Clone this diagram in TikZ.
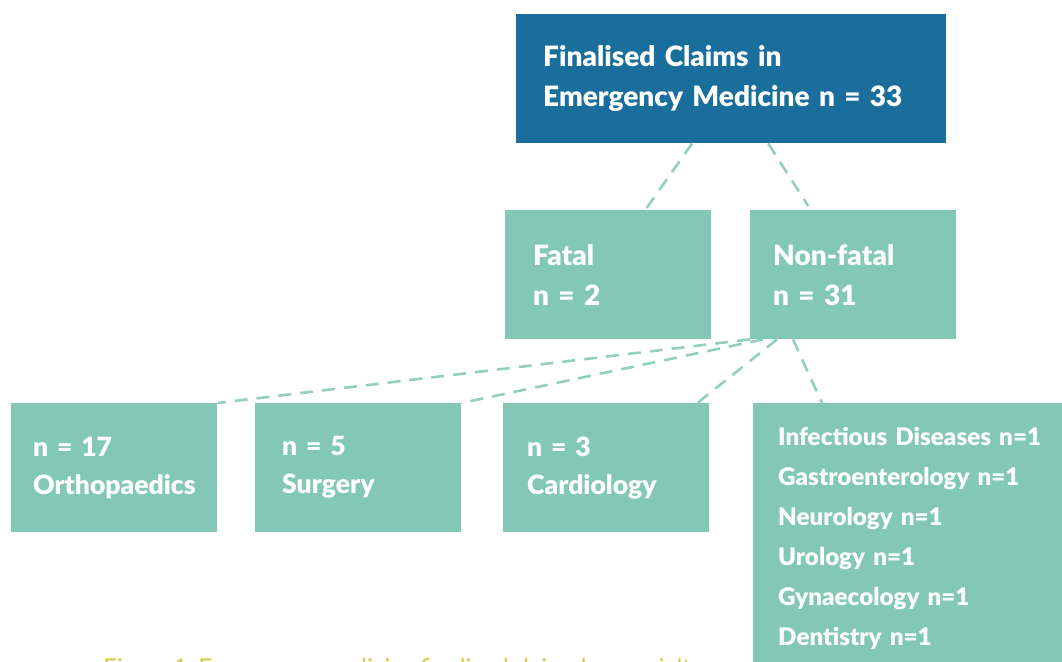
\documentclass[tikz,border=0pt]{standalone}
\usepackage{xcolor}
\usepackage{fontspec}
\setmainfont{Lato}[BoldFont={Lato Black}, WordSpace=0.45]
\usepackage{tikz}
\usetikzlibrary{positioning, calc}
\definecolor{claimblue}{HTML}{1A6E9C}
\definecolor{claimteal}{HTML}{82C8B4}
\definecolor{claimline}{HTML}{92CFBE}
\definecolor{captionyellow}{HTML}{D9C740}
\tikzstyle{claimbox}=[shape=rectangle, fill=claimteal, text=white, align=left, anchor=north west, minimum height=129pt, inner ysep=0pt]
\tikzstyle{link}=[draw=claimline, line width=2.6pt, dash pattern=on 13pt off 9pt]
\newcommand{\bigtext}{\bfseries\fontsize{28}{40}\selectfont}
\newcommand{\midtext}{\bfseries\fontsize{26.5}{38}\selectfont}
\newcommand{\smalltext}{\bfseries\fontsize{24.2}{40}\selectfont}

\begin{document}
\begin{tikzpicture}[x=1pt, y=-1pt]
\useasboundingbox (0,0) rectangle (1062,661);
\clip (0,0) rectangle (1062,661);
\node[claimbox, fill=claimblue, minimum width=430pt, text width=376pt, inner xsep=27pt, font=\bfseries\fontsize{28}{40}\selectfont] (claims) at (516,14) {Finalised Claims in\\Emergency Medicine n = 33};
\node[claimbox, minimum width=206pt, text width=150pt, inner xsep=28pt, font=\bigtext] (fatal) at (505,210) {Fatal\\n = 2};
\node[claimbox, minimum width=206pt, text width=160pt, inner xsep=23pt, font=\bigtext] (nonfatal) at (750,210) {Non-fatal\\n = 31};
\node[claimbox, minimum width=206pt, text width=162pt, inner xsep=22pt, font=\midtext] (ortho) at (11,403) {n = 17\\Orthopaedics};
\node[claimbox, minimum width=206pt, text width=152pt, inner xsep=27pt, font=\midtext] (surgery) at (255,403) {n = 5\\Surgery};
\node[claimbox, minimum width=206pt, text width=158pt, inner xsep=24pt, font=\midtext] (cardio) at (503,403) {n = 3\\Cardiology};
\node[claimbox, minimum height=0pt, text width=300pt, inner xsep=25pt, inner ysep=24pt, font=\smalltext] (others) at (753,403) {Infectious Diseases n=1\\Gastroenterology n=1\\Neurology n=1\\Urology n=1\\Gynaecology n=1\\Dentistry n=1};
\draw[link] ([xshift=-39pt]claims.south) -- ([xshift=37pt]fatal.north);
\draw[link] ([xshift=37pt]claims.south) -- ([xshift=-45pt,yshift=4pt]nonfatal.north);
\draw[link] (nonfatal.south west) -- (ortho.north east);
\draw[link] ([xshift=13pt]nonfatal.south west) -- (surgery.north east);
\draw[link] ([xshift=27pt]nonfatal.south west) -- ([xshift=-12pt]cardio.north east);
\draw[link] ([xshift=43pt]nonfatal.south west) -- ([xshift=69pt]others.north west);
\node[anchor=north west, inner sep=0pt, text=captionyellow, font=\fontsize{24.5}{28}\selectfont] (caption) at (103,658) {Figure 1. Emergency medicine finalised claims by specialty};
\end{tikzpicture}
\end{document}
